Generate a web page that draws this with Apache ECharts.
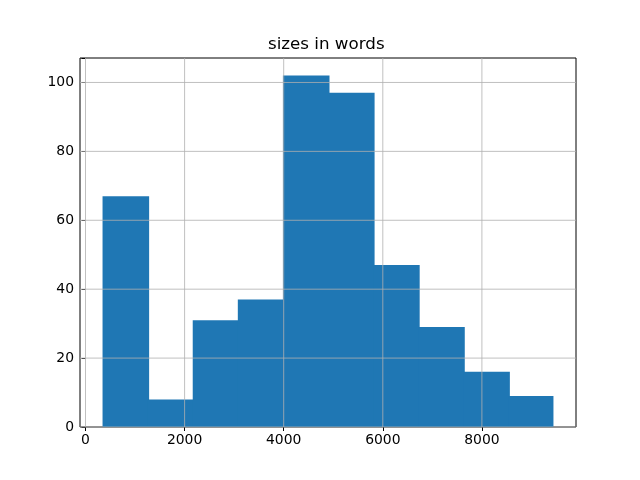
<!DOCTYPE html>
<html><head><meta charset="utf-8">
<script src="https://cdn.jsdelivr.net/npm/echarts@6/dist/echarts.min.js"></script>
<style>html,body{margin:0;padding:0;background:#fff}#c{width:640px;height:480px}</style>
</head><body><div id="c"></div>
<script>
const binEdges = [344, 1254, 2164, 3074, 3984, 4894, 5804, 6714, 7624, 8534, 9444];
const counts = [67, 8, 31, 37, 102, 97, 47, 29, 16, 9];
const xTicks = [0, 2000, 4000, 6000, 8000];
const yTicks = [0, 20, 40, 60, 80, 100];
const title = 'sizes in words';

const span = binEdges[binEdges.length - 1] - binEdges[0];
const xMin = binEdges[0] - span * 0.05;
const xMax = binEdges[binEdges.length - 1] + span * 0.05;
const yMax = Math.max(...counts) * 1.05;

const bars = counts.map((c, i) => [binEdges[i], binEdges[i + 1], c]);
const gridLines = xTicks.map(v => ['x', v]).concat(yTicks.map(v => ['y', v]));
const font = 'DejaVu Sans';

const chart = echarts.init(document.getElementById('c'), null, {renderer: 'canvas'});
chart.setOption({
  animation: false,
  graphic: [{type: 'text', left: 328 - 60, top: 36, z: 10,
    style: {text: title, font: '16.7px "DejaVu Sans"', fill: '#000', width: 120, align: 'center'}}],
  grid: {left: 80, right: 64, top: 58, bottom: 53, show: true, borderColor: '#000', borderWidth: 1, backgroundColor: 'transparent'},
  xAxis: {type: 'value', min: xMin, max: xMax,
    axisLine: {show: false},
    axisTick: {show: true, customValues: xTicks, length: 4, lineStyle: {color: '#000', width: 1}},
    axisLabel: {customValues: xTicks, color: '#000', fontFamily: font, fontSize: 13.9, margin: 6,
      formatter: v => String(v)},
    splitLine: {show: false}},
  yAxis: {type: 'value', min: 0, max: yMax, interval: 20,
    axisLine: {show: false},
    axisTick: {show: true, length: 4, lineStyle: {color: '#000', width: 1}},
    axisLabel: {color: '#000', fontFamily: font, fontSize: 13.9, margin: 6,
      formatter: v => (v % 20 === 0 ? String(v) : '')},
    splitLine: {show: false}},
  series: [
    {type: 'custom', data: bars, z: 2,
      renderItem: (params, api) => {
        const p0 = api.coord([api.value(0), api.value(2)]);
        const p1 = api.coord([api.value(1), 0]);
        const extra = params.dataIndex < bars.length - 1 ? 1.5 : 0;
        return {type: 'rect', shape: {x: p0[0], y: p0[1], width: p1[0] - p0[0] + extra, height: p1[1] - p0[1]},
          style: {fill: '#1f77b4'}};
      }},
    {type: 'custom', data: gridLines, z: 3, silent: true,
      renderItem: (params, api) => {
        const d = gridLines[params.dataIndex];
        let a, b;
        if (d[0] === 'x') { a = api.coord([d[1], 0]); b = api.coord([d[1], yMax]); }
        else { a = api.coord([xMin, d[1]]); b = api.coord([xMax, d[1]]); }
        return {type: 'line', shape: {x1: a[0], y1: a[1], x2: b[0], y2: b[1]},
          style: {stroke: '#b0b0b0', lineWidth: 0.8}};
      }}
  ]
});
</script></body></html>
